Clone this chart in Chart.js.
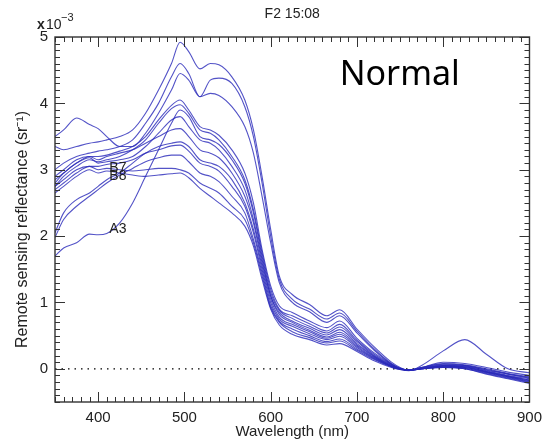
<!DOCTYPE html>
<html>
<head>
<meta charset="utf-8">
<title>F2 15:08</title>
<script src="https://cdn.jsdelivr.net/npm/chart.js@4.4.1/dist/chart.umd.min.js"></script>
<style>
	html, body { margin: 0; padding: 0; background: #fff; }
	#wrap { width: 549px; height: 447px; }
</style>
</head>
<body>
<div id="wrap"><canvas id="myChart" width="549" height="447"></canvas></div>
<script>
let chart_canvas = document.getElementById("myChart")
let ctx = chart_canvas.getContext("2d")

// Wavelength samples (nm)
let wavelengths = [350, 360, 375, 390, 400, 410, 425, 440, 455, 470, 485, 495, 505, 518, 530, 540, 555, 570, 580, 590, 600, 610, 625, 645, 665, 680, 700, 720, 740, 750, 760, 775, 800, 825, 850, 875, 900]

// Remote sensing reflectance (x 10^-3 sr^-1), one list per station
let stationT1 = [3.35, 3.3, 3.35, 3.4, 3.42, 3.45, 3.5, 3.6, 3.85, 4.2, 4.6, 4.92, 4.78, 4.52, 4.6, 4.58, 4.4, 4.05, 3.6, 2.9, 2.1, 1.4, 1.12, 0.97, 0.8, 0.89, 0.6, 0.33, 0.1, 0.02, -0.02, 0.02, 0.1, 0.08, 0.02, -0.05, -0.1]
let stationT2 = [3.0, 3.1, 3.2, 3.25, 3.28, 3.3, 3.35, 3.45, 3.7, 4.0, 4.4, 4.6, 4.45, 4.1, 4.35, 4.38, 4.3, 3.95, 3.5, 2.8, 2.0, 1.35, 1.05, 0.9, 0.75, 0.84, 0.57, 0.3, 0.08, 0.01, -0.02, 0.02, 0.08, 0.06, 0.0, -0.07, -0.12]
let stationT3 = [3.5, 3.6, 3.78, 3.68, 3.62, 3.5, 3.35, 3.35, 3.55, 3.85, 4.2, 4.45, 4.35, 4.1, 4.15, 4.12, 3.95, 3.65, 3.25, 2.6, 1.9, 1.3, 1.0, 0.86, 0.7, 0.8, 0.54, 0.28, 0.07, 0.0, -0.02, 0.02, 0.07, 0.05, -0.01, -0.08, -0.13]
let stationM1 = [2.8, 2.95, 3.1, 3.2, 3.2, 3.22, 3.28, 3.35, 3.5, 3.75, 3.97, 4.05, 3.9, 3.65, 3.6, 3.52, 3.3, 2.95, 2.5, 1.8, 1.25, 0.95, 0.85, 0.72, 0.62, 0.72, 0.46, 0.24, 0.07, 0.01, -0.02, 0.01, 0.06, 0.05, -0.02, -0.08, -0.14]
let stationM2 = [2.75, 2.9, 3.05, 3.15, 3.12, 3.15, 3.2, 3.3, 3.45, 3.7, 3.92, 3.98, 3.85, 3.6, 3.55, 3.45, 3.2, 2.85, 2.4, 1.75, 1.2, 0.9, 0.8, 0.68, 0.57, 0.67, 0.43, 0.22, 0.06, 0.0, -0.02, 0.01, 0.05, 0.04, -0.03, -0.1, -0.15]
let stationA3 = [1.7, 1.82, 1.9, 2.03, 2.02, 2.04, 2.2, 2.5, 2.9, 3.3, 3.7, 3.9, 3.8, 3.5, 3.45, 3.38, 3.15, 2.8, 2.35, 1.7, 1.15, 0.88, 0.76, 0.64, 0.54, 0.63, 0.41, 0.2, 0.05, 0.0, -0.02, 0.0, 0.05, 0.03, -0.04, -0.11, -0.17]
let stationM3 = [2.9, 3.0, 3.15, 3.2, 3.15, 3.2, 3.25, 3.3, 3.4, 3.5, 3.6, 3.62, 3.5, 3.3, 3.25, 3.18, 2.95, 2.6, 2.2, 1.6, 1.1, 0.85, 0.72, 0.61, 0.51, 0.59, 0.38, 0.19, 0.05, 0.0, -0.02, 0.0, 0.04, 0.03, -0.04, -0.11, -0.17]
let stationM4 = [2.85, 2.95, 3.1, 3.18, 3.1, 3.12, 3.15, 3.2, 3.35, 3.55, 3.75, 3.8, 3.65, 3.45, 3.4, 3.3, 3.05, 2.7, 2.25, 1.65, 1.1, 0.82, 0.7, 0.58, 0.48, 0.55, 0.36, 0.18, 0.04, 0.0, -0.03, 0.05, 0.27, 0.44, 0.22, 0.0, -0.06]
let stationB7 = [2.05, 2.35, 2.55, 2.65, 2.75, 2.85, 2.95, 3.1, 3.25, 3.35, 3.4, 3.42, 3.35, 3.15, 3.1, 3.05, 2.85, 2.5, 2.1, 1.55, 1.05, 0.78, 0.67, 0.56, 0.46, 0.52, 0.34, 0.17, 0.04, 0.0, -0.02, 0.0, 0.04, 0.02, -0.05, -0.12, -0.18]
let stationM6 = [2.75, 2.85, 3.0, 3.05, 3.05, 3.08, 3.1, 3.15, 3.25, 3.3, 3.36, 3.37, 3.28, 3.1, 3.05, 2.98, 2.75, 2.45, 2.05, 1.5, 1.0, 0.75, 0.64, 0.53, 0.44, 0.49, 0.32, 0.16, 0.04, 0.0, -0.02, 0.0, 0.03, 0.02, -0.05, -0.12, -0.19]
let stationB8 = [1.98, 2.25, 2.45, 2.6, 2.7, 2.8, 2.92, 3.02, 3.12, 3.18, 3.22, 3.22, 3.12, 2.95, 2.9, 2.82, 2.6, 2.35, 1.95, 1.45, 0.95, 0.72, 0.6, 0.5, 0.41, 0.45, 0.3, 0.15, 0.03, -0.01, -0.02, 0.0, 0.03, 0.01, -0.06, -0.13, -0.2]
let stationM7 = [2.7, 2.8, 2.95, 3.05, 3.0, 3.02, 3.0, 2.98, 3.0, 3.02, 3.02, 3.0, 2.95, 2.8, 2.72, 2.65, 2.45, 2.25, 1.9, 1.4, 0.92, 0.7, 0.56, 0.47, 0.39, 0.42, 0.28, 0.14, 0.03, -0.01, -0.02, 0.0, 0.02, 0.0, -0.07, -0.14, -0.21]
let stationM8 = [2.65, 2.75, 2.9, 3.0, 2.95, 2.98, 2.95, 2.92, 2.9, 2.92, 2.94, 2.95, 2.88, 2.72, 2.6, 2.5, 2.35, 2.15, 1.85, 1.35, 0.9, 0.66, 0.52, 0.44, 0.36, 0.38, 0.26, 0.12, 0.02, -0.01, -0.02, 0.0, 0.02, 0.0, -0.08, -0.15, -0.22]

let stations = [stationT1, stationT2, stationT3, stationM1, stationM2, stationA3, stationM3, stationM4, stationB7, stationM6, stationB8, stationM7, stationM8]

// Axis ranges and ticks
let xMin = 350
let xMax = 900
let yMin = -0.5
let yMax = 5
let zeroLineX = [xMin, xMax]
let zeroLineY = [0, 0]

// In-plot labels: [text, wavelength, value]
let curveLabels = [
	["B7", 413, 2.96],
	["B8", 413, 2.85],
	["A3", 413, 2.04],
]
let panelLabel = ["Normal", 680, 4.27]

let lineColor = "rgba(40, 40, 185, 0.8)"
let textColor = "#222"
let fontFamily = "'Liberation Sans', Arial, sans-serif"

function toPoints(xs, ys) {
	return xs.map((w, i) => ({x: w, y: ys[i]}))
}

let datasets = stations.map(function (vals) {
	return {
		data: toPoints(wavelengths, vals),
		borderColor: lineColor,
		borderWidth: 1.1,
		pointRadius: 0,
		cubicInterpolationMode: "monotone",
		fill: false,
	}
})
datasets.push({
	data: toPoints(zeroLineX, zeroLineY),
	borderColor: "#000",
	borderWidth: 1.2,
	borderDash: [1.5, 5],
	pointRadius: 0,
	fill: false,
})

// Frame with inward major/minor ticks on all four sides, plus text overlays
let framePlugin = {
	id: "framePlugin",
	afterDatasetsDraw(chart) {
		let c = chart.ctx
		let a = chart.chartArea
		let x = chart.scales.x
		let y = chart.scales.y
		c.save()
		c.strokeStyle = "#333"
		c.lineWidth = 1
		c.beginPath()
		for (let w = xMin; w <= xMax; w += 10) {
			let px = Math.round(x.getPixelForValue(w)) + 0.5
			let len = w % 100 == 0 ? 10 : 5
			c.moveTo(px, a.bottom); c.lineTo(px, a.bottom - len)
			c.moveTo(px, a.top); c.lineTo(px, a.top + len)
		}
		for (let i = yMin * 10; i <= yMax * 10; i++) {
			let py = Math.round(y.getPixelForValue(i / 10)) + 0.5
			let len = i % 10 == 0 ? 10 : 5
			c.moveTo(a.left, py); c.lineTo(a.left + len, py)
			c.moveTo(a.right, py); c.lineTo(a.right - len, py)
		}
		c.stroke()
		c.lineWidth = 1.4
		c.strokeRect(a.left, a.top, a.right - a.left, a.bottom - a.top)

		c.fillStyle = textColor
		c.textBaseline = "alphabetic"
		c.textAlign = "left"
		c.font = "14px " + fontFamily
		curveLabels.forEach(function (l) {
			c.fillText(l[0], x.getPixelForValue(l[1]), y.getPixelForValue(l[2]))
		})

		c.fillStyle = "#000"
		c.font = "34px 'Noto Sans', sans-serif"
		c.fillText(panelLabel[0], x.getPixelForValue(panelLabel[1]), y.getPixelForValue(panelLabel[2]))

		// title
		c.fillStyle = textColor
		c.textAlign = "center"
		c.font = "14px " + fontFamily
		c.fillText("F2 15:08", (a.left + a.right) / 2, 18)

		// exponent
		c.textAlign = "left"
		c.font = "bold 14px " + fontFamily
		c.fillText("x", 37, 29)
		c.font = "14px " + fontFamily
		c.fillText("10", 46, 29)
		c.font = "11px " + fontFamily
		c.fillText("\u22123", 61, 21)

		// y axis title
		c.save()
		c.translate(27, (a.top + a.bottom) / 2 + 10)
		c.rotate(-Math.PI / 2)
		c.textAlign = "center"
		c.font = "16px " + fontFamily
		c.fillText("Remote sensing reflectance (sr\u207B\u00B9)", 0, 0)
		c.restore()
		c.restore()
	}
}

let config = {
	type: "line",
	data: {datasets: datasets},
	options: {
		responsive: false,
		animation: false,
		layout: {padding: {top: 37, right: 16, left: 0, bottom: 0}},
		plugins: {
			legend: {display: false},
			tooltip: {enabled: false},
		},
		scales: {
			x: {
				type: "linear",
				min: xMin,
				max: xMax,
				afterFit: function (s) { s.height = 45 },
				grid: {display: false, drawTicks: false},
				border: {display: false},
				ticks: {
					stepSize: 100,
					padding: 7,
					color: textColor,
					font: {size: 15, family: fontFamily},
					maxRotation: 0,
					callback: v => v % 100 == 0 ? v : "",
				},
				title: {
					display: true,
					text: "Wavelength (nm)",
					color: textColor,
					font: {size: 15, family: fontFamily},
					padding: {top: 0, bottom: 6},
				},
			},
			y: {
				min: yMin,
				max: yMax,
				afterFit: function (s) { s.width = 55 },
				grid: {display: false, drawTicks: false},
				border: {display: false},
				ticks: {
					stepSize: 1,
					padding: 7,
					color: textColor,
					font: {size: 15, family: fontFamily},
					callback: v => Number.isInteger(v) ? v : "",
				},
			},
		},
	},
	plugins: [framePlugin],
}

let spectraChart = new Chart(ctx, config)
</script>
</body>
</html>
